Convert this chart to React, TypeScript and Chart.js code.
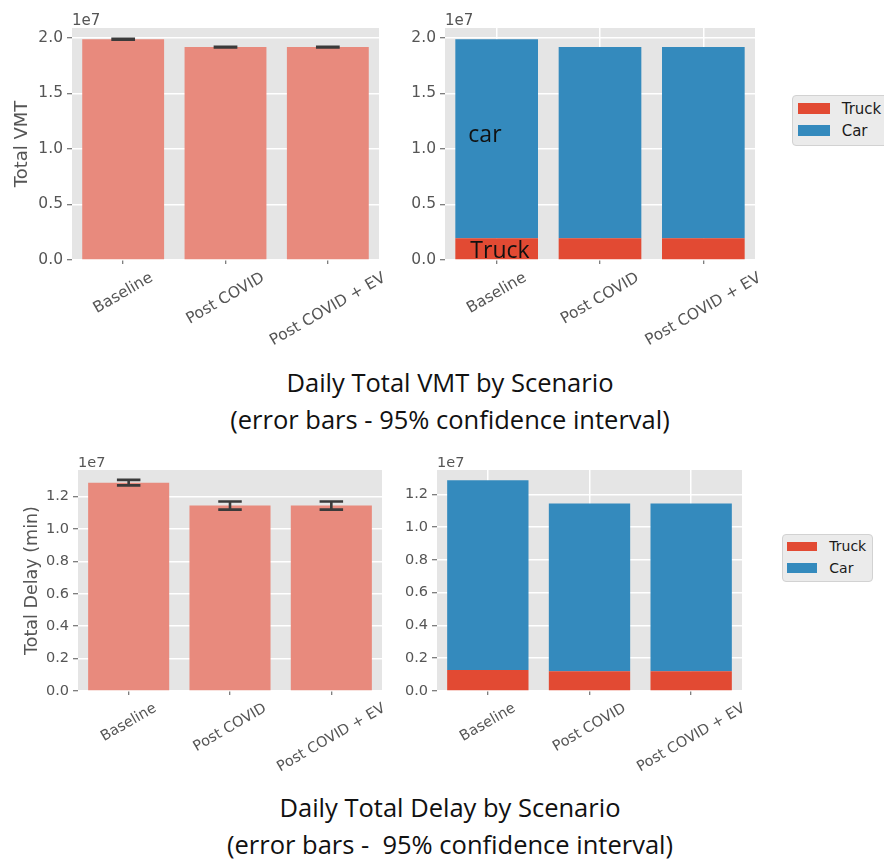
import React, { useEffect, useRef } from 'react';
import { Chart, registerables } from 'chart.js';

Chart.register(...registerables);

// ---- data -------------------------------------------------------------
const scenarios = ['Baseline', 'Post COVID', 'Post COVID + EV'];

// Daily total VMT (vehicle miles travelled)
const vmtMean = [1.985e7, 1.915e7, 1.915e7];
const vmtCiLow = [1.981e7, 1.911e7, 1.911e7];
const vmtCiHigh = [1.989e7, 1.919e7, 1.919e7];
const vmtTruck = [0.195e7, 0.195e7, 0.195e7];
const vmtCar = [1.79e7, 1.72e7, 1.72e7];
const vmtTicks = [0, 0.5e7, 1.0e7, 1.5e7, 2.0e7];

// Daily total delay (minutes)
const delayMean = [1.287e7, 1.145e7, 1.145e7];
const delayCiLow = [1.27e7, 1.12e7, 1.12e7];
const delayCiHigh = [1.304e7, 1.17e7, 1.17e7];
const delayTruck = [0.128e7, 0.12e7, 0.12e7];
const delayCar = [1.159e7, 1.025e7, 1.025e7];
const delayTicks = [0, 0.2e7, 0.4e7, 0.6e7, 0.8e7, 1.0e7, 1.2e7];

const modeLabels = ['Truck', 'Car'];

// ---- styling ----------------------------------------------------------
const MPL_FONT = '"DejaVu Sans", "Liberation Sans", sans-serif';
const UI_FONT = '"Open Sans", "Noto Sans", sans-serif';
const AXIS_GRAY = '#555555';
const PANEL = '#E5E5E5';
const SALMON = '#E88A7D';
const modeColors = ['#E24A33', '#348ABD'];

// grey plotting panel behind grid and bars
const panelPlugin = {
  id: 'panel',
  beforeDraw(chart: any) {
    const { ctx, chartArea: a } = chart;
    ctx.save();
    ctx.fillStyle = PANEL;
    ctx.fillRect(a.left, a.top, a.right - a.left, a.bottom - a.top);
    ctx.restore();
  },
};

// "1e7" scale multiplier above the y axis
function offsetTextPlugin(size: number) {
  return {
    id: 'offsetText',
    afterDraw(chart: any) {
      const { ctx, chartArea: a } = chart;
      ctx.save();
      ctx.font = `${size}px ${MPL_FONT}`;
      ctx.fillStyle = AXIS_GRAY;
      ctx.textAlign = 'left';
      ctx.textBaseline = 'alphabetic';
      ctx.fillText('1e7', a.left, a.top - 3);
      ctx.restore();
    },
  };
}

// category labels rotated 30 degrees, centred under each tick
function rotatedLabelsPlugin(size: number) {
  return {
    id: 'rotatedLabels',
    afterDraw(chart: any) {
      const { ctx, chartArea: a } = chart;
      const xs = chart.scales.x;
      const labels: string[] = chart.data.labels;
      const rot = Math.PI / 6;
      ctx.save();
      ctx.font = `${size}px ${MPL_FONT}`;
      ctx.fillStyle = AXIS_GRAY;
      ctx.textAlign = 'center';
      ctx.textBaseline = 'middle';
      labels.forEach((lab, i) => {
        const x = xs.getPixelForValue(i);
        const w = ctx.measureText(lab).width;
        const h = size * 1.17;
        const cy = a.bottom + 9 + (w * Math.sin(rot) + h * Math.cos(rot)) / 2;
        ctx.save();
        ctx.translate(x, cy);
        ctx.rotate(-rot);
        ctx.fillText(lab, 0, 0);
        ctx.restore();
      });
      ctx.restore();
    },
  };
}

// 95% confidence interval whiskers with caps
function errorBarPlugin(low: number[], high: number[]) {
  return {
    id: 'errorBars',
    afterDatasetsDraw(chart: any) {
      const { ctx } = chart;
      const ys = chart.scales.y;
      const meta = chart.getDatasetMeta(0);
      ctx.save();
      ctx.strokeStyle = '#3A3A3A';
      ctx.lineWidth = 2.6;
      meta.data.forEach((bar: any, i: number) => {
        const yl = ys.getPixelForValue(low[i]);
        const yh = ys.getPixelForValue(high[i]);
        const half = bar.width * 0.145;
        ctx.beginPath();
        ctx.moveTo(bar.x, yl);
        ctx.lineTo(bar.x, yh);
        ctx.moveTo(bar.x - half, yl);
        ctx.lineTo(bar.x + half, yl);
        ctx.moveTo(bar.x - half, yh);
        ctx.lineTo(bar.x + half, yh);
        ctx.stroke();
      });
      ctx.restore();
    },
  };
}

// hand-placed text notes inside the first stacked bar
function notesPlugin(notes: { text: string; index: number; value: number; dx: number }[]) {
  return {
    id: 'notes',
    afterDatasetsDraw(chart: any) {
      const { ctx } = chart;
      const ys = chart.scales.y;
      const meta = chart.getDatasetMeta(0);
      ctx.save();
      ctx.font = `23px ${UI_FONT}`;
      ctx.fillStyle = '#111111';
      ctx.textAlign = 'left';
      ctx.textBaseline = 'alphabetic';
      notes.forEach((n) => {
        const bar: any = meta.data[n.index];
        ctx.fillText(n.text, bar.x - bar.width / 2 + n.dx, ys.getPixelForValue(n.value));
      });
      ctx.restore();
    },
  };
}

type Frame = {
  padTop: number;
  padRight: number;
  yWidth: number;
  xHeight: number;
  yMax: number;
  ticks: number[];
  tickSize: number;
  xGrid: boolean;
  stacked: boolean;
  yTitle?: string;
  yTitlePad?: number;
  yTitleSize?: number;
};

function makeOptions(f: Frame): any {
  return {
    responsive: false,
    animation: false,
    events: [],
    layout: { padding: { top: f.padTop, right: f.padRight, left: 0, bottom: 0 } },
    plugins: { legend: { display: false }, tooltip: { enabled: false } },
    scales: {
      x: {
        type: 'category',
        offset: true,
        stacked: f.stacked,
        border: { display: false },
        grid: {
          offset: false,
          color: f.xGrid ? '#FFFFFF' : 'rgba(0,0,0,0)',
          lineWidth: 1.5,
          drawOnChartArea: f.xGrid,
          drawTicks: true,
          tickColor: AXIS_GRAY,
          tickLength: 4,
          tickWidth: 1,
        },
        ticks: { display: false },
        afterFit: (s: any) => {
          s.height = f.xHeight;
        },
      },
      y: {
        min: 0,
        max: f.yMax,
        stacked: f.stacked,
        border: { display: false },
        grid: { color: '#FFFFFF', lineWidth: 1.5, tickColor: AXIS_GRAY, tickLength: 5, tickWidth: 1 },
        ticks: {
          color: AXIS_GRAY,
          font: { family: MPL_FONT, size: f.tickSize },
          padding: 4,
          callback: (v: number) => (v / 1e7).toFixed(1),
        },
        afterBuildTicks: (s: any) => {
          s.ticks = f.ticks.map((v) => ({ value: v }));
        },
        afterFit: (s: any) => {
          s.width = f.yWidth;
        },
        title: {
          display: !!f.yTitle,
          text: f.yTitle || '',
          color: AXIS_GRAY,
          font: { family: MPL_FONT, size: f.yTitleSize || 17.5 },
          padding: { top: f.yTitlePad || 0, bottom: 0 },
        },
      },
    },
  };
}

function ChartCanvas({ left, top, width, height, build }: any) {
  const ref = useRef<HTMLCanvasElement>(null);
  useEffect(() => {
    const chart = new Chart(ref.current as HTMLCanvasElement, build());
    return () => chart.destroy();
  }, []);
  return (
    <canvas
      ref={ref}
      width={width}
      height={height}
      style={{ position: 'absolute', left, top, width, height }}
    />
  );
}

function Legend(p: any) {
  return (
    <div
      style={{
        position: 'absolute',
        left: p.left,
        top: p.top,
        width: p.width,
        height: p.height,
        background: '#EBEBEB',
        border: '1px solid #D2D2D2',
        borderRadius: 4,
        boxSizing: 'border-box',
      }}
    >
      {modeLabels.map((label, i) => (
        <div key={label}>
          <div
            style={{
              position: 'absolute',
              left: p.patchLeft,
              top: p.patchTop + p.rowGap * i,
              width: p.patchW,
              height: p.patchH,
              background: modeColors[i],
            }}
          />
          <div
            style={{
              position: 'absolute',
              left: p.textLeft,
              top: p.patchTop + p.rowGap * i + p.patchH / 2 - p.font * 0.6,
              height: p.font * 1.2,
              lineHeight: `${p.font * 1.2}px`,
              font: `${p.font}px ${MPL_FONT}`,
              color: '#1A1A1A',
              whiteSpace: 'nowrap',
            }}
          >
            {label}
          </div>
        </div>
      ))}
    </div>
  );
}

const titleStyle: any = {
  position: 'absolute',
  left: 150,
  width: 600,
  textAlign: 'center',
  font: `25.5px ${UI_FONT}`,
  lineHeight: '37px',
  color: '#111111',
  whiteSpace: 'pre',
};

export default function App() {
  const vmtMeanChart = () => ({
    type: 'bar',
    data: {
      labels: scenarios,
      datasets: [
        { label: 'Total VMT', data: vmtMean, backgroundColor: SALMON, barPercentage: 0.8, categoryPercentage: 1 },
      ],
    },
    options: makeOptions({
      padTop: 28, padRight: 21, yWidth: 72, xHeight: 100, yMax: 2.087e7, ticks: vmtTicks,
      tickSize: 15.5, xGrid: false, stacked: false, yTitle: 'Total VMT', yTitlePad: 12, yTitleSize: 18,
    }),
    plugins: [panelPlugin, offsetTextPlugin(15), rotatedLabelsPlugin(15.5), errorBarPlugin(vmtCiLow, vmtCiHigh)],
  });

  const vmtModeChart = () => ({
    type: 'bar',
    data: {
      labels: scenarios,
      datasets: [
        { label: modeLabels[0], data: vmtTruck, backgroundColor: modeColors[0], barPercentage: 0.8, categoryPercentage: 1 },
        { label: modeLabels[1], data: vmtCar, backgroundColor: modeColors[1], barPercentage: 0.8, categoryPercentage: 1 },
      ],
    },
    options: makeOptions({
      padTop: 28, padRight: 25, yWidth: 45, xHeight: 100, yMax: 2.087e7, ticks: vmtTicks,
      tickSize: 15.5, xGrid: true, stacked: true,
    }),
    plugins: [
      panelPlugin,
      offsetTextPlugin(15),
      rotatedLabelsPlugin(15.5),
      notesPlugin([
        { text: 'car', index: 0, value: 1.06e7, dx: 13 },
        { text: 'Truck', index: 0, value: 0.018e7, dx: 15 },
      ]),
    ],
  });

  const delayMeanChart = () => ({
    type: 'bar',
    data: {
      labels: scenarios,
      datasets: [
        { label: 'Total Delay', data: delayMean, backgroundColor: SALMON, barPercentage: 0.8, categoryPercentage: 1 },
      ],
    },
    options: makeOptions({
      padTop: 30, padRight: 18, yWidth: 78, xHeight: 89, yMax: 1.365e7, ticks: delayTicks,
      tickSize: 14.5, xGrid: false, stacked: false, yTitle: 'Total Delay (min)', yTitlePad: 22,
    }),
    plugins: [panelPlugin, offsetTextPlugin(14.5), rotatedLabelsPlugin(14.5), errorBarPlugin(delayCiLow, delayCiHigh)],
  });

  const delayModeChart = () => ({
    type: 'bar',
    data: {
      labels: scenarios,
      datasets: [
        { label: modeLabels[0], data: delayTruck, backgroundColor: modeColors[0], barPercentage: 0.8, categoryPercentage: 1 },
        { label: modeLabels[1], data: delayCar, backgroundColor: modeColors[1], barPercentage: 0.8, categoryPercentage: 1 },
      ],
    },
    options: makeOptions({
      padTop: 30, padRight: 28, yWidth: 37, xHeight: 89, yMax: 1.349e7, ticks: delayTicks,
      tickSize: 14.5, xGrid: true, stacked: true,
    }),
    plugins: [panelPlugin, offsetTextPlugin(14.5), rotatedLabelsPlugin(14.5)],
  });

  return (
    <div
      style={{
        position: 'absolute',
        left: 0,
        top: 0,
        width: 884,
        height: 861,
        overflow: 'hidden',
        background: '#FFFFFF',
      }}
    >
      <ChartCanvas left={0} top={0} width={400} height={360} build={vmtMeanChart} />
      <ChartCanvas left={400} top={0} width={380} height={360} build={vmtModeChart} />
      <Legend
        left={791.7} top={95} width={100} height={51}
        patchLeft={5} patchTop={7.3} patchW={32.6} patchH={11} rowGap={21.7} textLeft={49} font={15}
      />
      <div style={{ ...titleStyle, top: 364 }}>
        {'Daily Total VMT by Scenario\n(error bars - 95% confidence interval)'}
      </div>

      <ChartCanvas left={0} top={440} width={400} height={340} build={delayMeanChart} />
      <ChartCanvas left={400} top={440} width={370} height={340} build={delayModeChart} />
      <Legend
        left={781.7} top={534.3} width={91.6} height={47.4}
        patchLeft={4.3} patchTop={6.4} patchW={29.7} patchH={9.3} rowGap={21.6} textLeft={46.6} font={14}
      />
      <div style={{ ...titleStyle, top: 789 }}>
        {'Daily Total Delay by Scenario\n(error bars -  95% confidence interval)'}
      </div>
    </div>
  );
}
